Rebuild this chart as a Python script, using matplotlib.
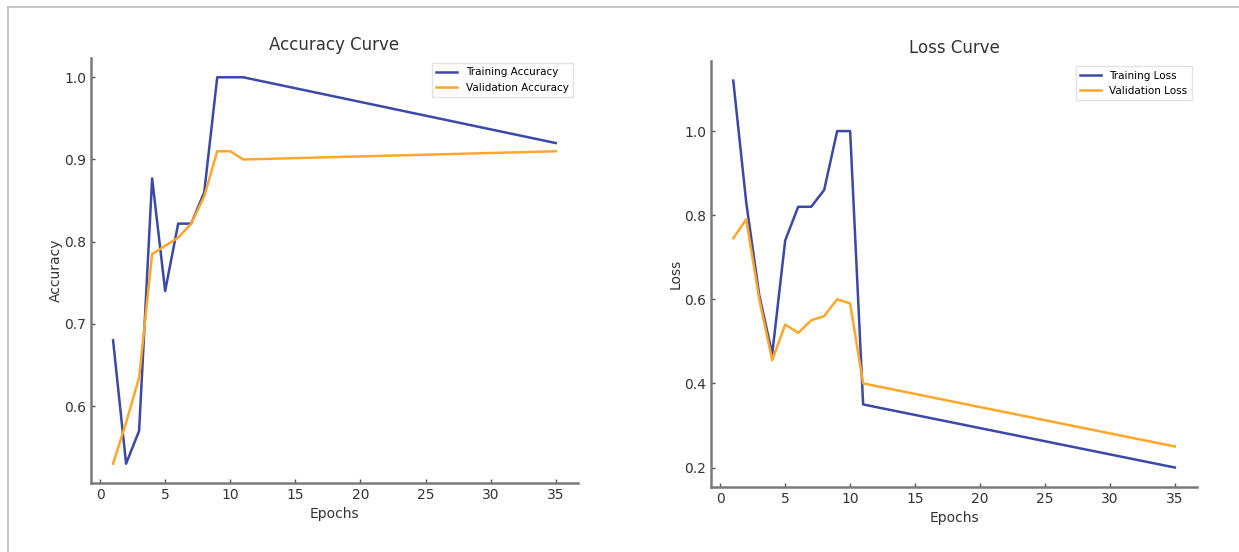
import matplotlib
matplotlib.use("Agg")
import matplotlib.pyplot as plt
from matplotlib.lines import Line2D

# epochs recorded (1..11, then the final epoch 35)
epochs = [1, 2, 3, 4, 5, 6, 7, 8, 9, 10, 11, 35]

train_acc = [0.68, 0.53, 0.57, 0.877, 0.74, 0.822, 0.822, 0.86, 1.0, 1.0, 1.0, 0.92]
val_acc = [0.53, 0.58, 0.635, 0.785, 0.795, 0.805, 0.822, 0.855, 0.91, 0.91, 0.90, 0.91]

train_loss = [1.12, 0.83, 0.61, 0.47, 0.74, 0.82, 0.82, 0.86, 1.0, 1.0, 0.35, 0.20]
val_loss = [0.745, 0.79, 0.60, 0.455, 0.54, 0.52, 0.55, 0.56, 0.60, 0.59, 0.40, 0.25]

BLUE = '#3a48a8'
ORANGE = '#ffa62b'
GREY = '#7a7a7a'
LW = 1.8


def style_axes(ax):
    for side in ('top', 'right'):
        ax.spines[side].set_visible(False)
    for side in ('left', 'bottom'):
        ax.spines[side].set_color(GREY)
        ax.spines[side].set_linewidth(1.8)
    ax.tick_params(direction='in', length=3, width=1, color='#555555',
                   labelcolor='#333333', labelsize=10)
    ax.set_xticks([0, 5, 10, 15, 20, 25, 30, 35])


fig = plt.figure(figsize=(12.39, 5.52), dpi=100)

ax1 = fig.add_axes([0.0734, 0.125, 0.393, 0.770])
ax1.plot(epochs, train_acc, color=BLUE, lw=LW, label='Training Accuracy')
ax1.plot(epochs, val_acc, color=ORANGE, lw=LW, label='Validation Accuracy')
ax1.set_title('Accuracy Curve', fontsize=12, color='#333333')
ax1.set_xlabel('Epochs', fontsize=10, color='#333333')
ax1.set_ylabel('Accuracy', fontsize=10, color='#333333', labelpad=1)
ax1.set_yticks([0.6, 0.7, 0.8, 0.9, 1.0])
style_axes(ax1)
ax1.legend(fontsize=7.5, loc='upper right', fancybox=False, edgecolor='#dddddd')

ax2 = fig.add_axes([0.574, 0.118, 0.392, 0.771])
ax2.plot(epochs, train_loss, color=BLUE, lw=LW, label='Training Loss')
ax2.plot(epochs, val_loss, color=ORANGE, lw=LW, label='Validation Loss')
ax2.set_title('Loss Curve', fontsize=12, color='#333333')
ax2.set_xlabel('Epochs', fontsize=10, color='#333333')
ax2.set_ylabel('Loss', fontsize=10, color='#333333', labelpad=1)
ax2.set_yticks([0.2, 0.4, 0.6, 0.8, 1.0])
style_axes(ax2)
ax2.legend(fontsize=7.5, loc='upper right', fancybox=False, edgecolor='#dddddd')

# thin frame around the picture (top and left edges)
fig.add_artist(Line2D([8 / 1239, 1.0], [1 - 7 / 552, 1 - 7 / 552],
                      transform=fig.transFigure, color='#bbbbbb', lw=1.2))
fig.add_artist(Line2D([8 / 1239, 8 / 1239], [0.0, 1 - 7 / 552],
                      transform=fig.transFigure, color='#bbbbbb', lw=1.2))

fig.savefig('out.png', dpi=100)
